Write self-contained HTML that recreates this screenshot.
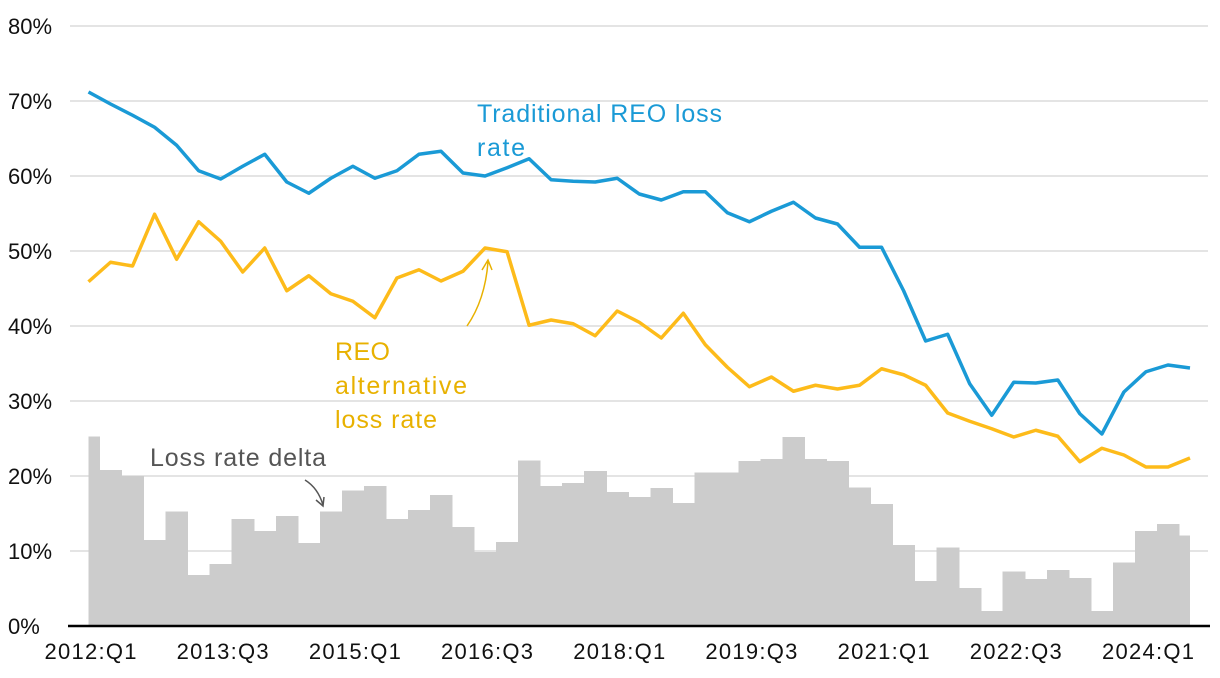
<!DOCTYPE html>
<html><head><meta charset="utf-8"><style>
body{margin:0;background:#fff;}
svg{display:block;font-family:"Liberation Sans",sans-serif;}
</style></head><body>
<svg id="chart" width="1220" height="678">
<g id="grid"></g><g id="bars" shape-rendering="crispEdges"></g><g id="lines"></g><g id="axes"></g>
<text x="477" y="122" font-size="25" textLength="245" fill="#1a9ad6">Traditional REO loss</text>
<text x="477" y="156" font-size="25" textLength="48" fill="#1a9ad6">rate</text>
<text x="335" y="360" font-size="25" textLength="55" fill="#e8b100">REO</text>
<text x="335" y="394" font-size="25" textLength="132" fill="#e8b100">alternative</text>
<text x="335" y="428" font-size="25" textLength="102" fill="#e8b100">loss rate</text>
<text x="150" y="466" font-size="25" textLength="176" fill="#555">Loss rate delta</text>
<path d="M467 326 Q485 300 488 262 M482 270 L488 260 L492 270" fill="none" stroke="#e8b100" stroke-width="1.5"/>
<path d="M305 480 Q318 488 323 505 M316 500 L323 506 L324 497" fill="none" stroke="#555" stroke-width="1.5"/>
</svg>
<script>
const quarterCount = 51;
const tickLabels = ["2012:Q1","2013:Q3","2015:Q1","2016:Q3","2018:Q1","2019:Q3","2021:Q1","2022:Q3","2024:Q1"];
const yTicks = [0,10,20,30,40,50,60,70,80];
const traditional = [71.2,69.6,68.1,66.5,64.1,60.7,59.6,61.3,62.9,59.2,57.7,59.7,61.3,59.7,60.7,62.9,63.3,60.4,60.0,61.1,62.3,59.5,59.3,59.2,59.7,57.6,56.8,57.9,57.9,55.1,53.9,55.3,56.5,54.4,53.6,50.5,50.5,44.7,38.0,38.9,32.3,28.1,32.5,32.4,32.8,28.3,25.6,31.2,33.9,34.8,34.4];
const alternative = [45.9,48.5,48.0,54.9,48.9,53.9,51.3,47.2,50.4,44.7,46.7,44.3,43.3,41.1,46.4,47.5,46.0,47.3,50.4,49.9,40.1,40.8,40.3,38.7,42.0,40.5,38.4,41.7,37.5,34.5,31.9,33.2,31.3,32.1,31.6,32.1,34.3,33.5,32.1,28.4,27.3,26.3,25.2,26.1,25.3,21.9,23.7,22.8,21.2,21.2,22.4];
const delta = [25.3,20.8,20.0,11.5,15.3,6.8,8.3,14.3,12.7,14.7,11.1,15.3,18.1,18.7,14.3,15.5,17.5,13.2,9.9,11.2,22.1,18.7,19.1,20.7,17.9,17.2,18.4,16.4,20.5,20.5,22.0,22.3,25.2,22.3,22.0,18.5,16.3,10.8,6.0,10.5,5.1,2.0,7.3,6.3,7.5,6.4,2.0,8.5,12.7,13.6,12.1];
const NS="http://www.w3.org/2000/svg";
const X0=88.5,X1=1190,Y0=626,PX=7.5;
const step=(X1-X0)/(quarterCount-1);
function xs(i){return X0+i*step;}
function ys(v){return Y0-v*PX;}
function mk(tag,attrs,parent){const e=document.createElementNS(NS,tag);for(const k in attrs)e.setAttribute(k,attrs[k]);document.getElementById(parent).appendChild(e);return e;}
yTicks.forEach(t=>{
  if(t>0){const l=mk('line',{x1:70,x2:1208,y1:ys(t),y2:ys(t),stroke:'#dcdcdc','stroke-width':1.5},'grid');
  
  }
  const tx=mk('text',{x:8,y:ys(t)+8,'font-size':22,fill:'#111'},'axes');tx.textContent=t+'%';
  
  
});
delta.forEach((v,i)=>{
  let a=Math.max(X0,xs(i)-step/2),b=Math.min(X1,xs(i)+step/2+0.6);
  const r=mk('rect',{x:a,y:ys(v),width:b-a,height:v*PX,fill:'#cccccc'},'bars');
  
  
});
function line(arr,col,name){
  const p=mk('polyline',{points:arr.map((v,i)=>xs(i)+','+ys(v)).join(' '),fill:'none',stroke:col,'stroke-width':3.5,'stroke-linejoin':'round'},'lines');
  
  
}
line(alternative,'#fdbb1a','alternative-line');
line(traditional,'#1a9ad6','traditional-line');
const ax=mk('line',{x1:68,x2:1210,y1:Y0,y2:Y0,stroke:'#000','stroke-width':2.5},'axes');


tickLabels.forEach((t,k)=>{
  const tx=mk('text',{x:xs(k*6)+2,y:659,'font-size':22,fill:'#111','text-anchor':'middle',textLength:92},'axes');tx.textContent=t;
  
  
});
</script>
</body></html>
